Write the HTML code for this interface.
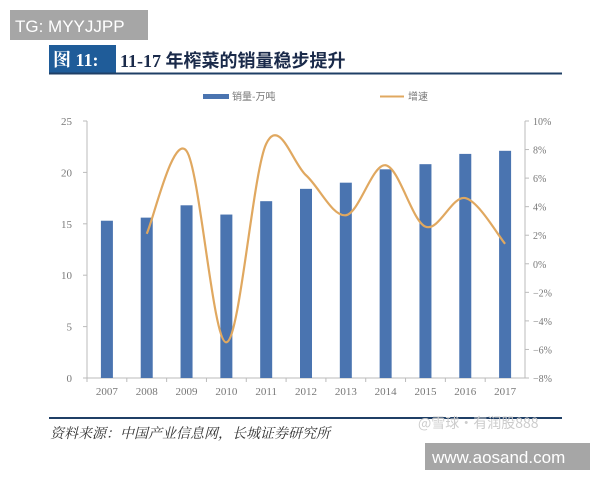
<!DOCTYPE html>
<html><head><meta charset="utf-8"><style>
body{margin:0;width:600px;height:480px;background:#fff;overflow:hidden;font-family:"Liberation Serif","Noto Serif CJK SC",serif;}
</style></head><body>
<svg width="600" height="480" id="svg">
<rect x="10" y="10" width="138" height="30" fill="#a6a6a6"/>
<text x="15" y="32" font-family="Liberation Sans,sans-serif" font-size="17" fill="#fff">TG: MYYJJPP</text>
<rect x="49" y="45" width="67" height="28" fill="#1f5c99"/>
<text x="53" y="66" font-size="18" font-weight="bold" fill="#fff">图 11:</text>
<text x="120" y="67" font-size="18" font-weight="bold" fill="#1a2a4a" font-family="Liberation Serif,Noto Sans CJK SC,sans-serif">11-17 年榨菜的销量稳步提升</text>
<line x1="49" y1="73.5" x2="562" y2="73.5" stroke="#1f3f66" stroke-width="2"/>
<rect x="203" y="94" width="26" height="5" fill="#4a74b0"/>
<text x="232" y="100" font-size="10" fill="#777" font-family="Noto Sans CJK SC,sans-serif">销量-万吨</text>
<line x1="380" y1="96.5" x2="404" y2="96.5" stroke="#e0a860" stroke-width="2"/>
<text x="408" y="100" font-size="10" fill="#777" font-family="Noto Sans CJK SC,sans-serif">增速</text>
<g id="plot"></g>
<line x1="49" y1="418" x2="562" y2="418" stroke="#1f3f66" stroke-width="2"/>
<text x="50" y="438" font-size="14" font-style="italic" fill="#333" font-family="Noto Serif CJK SC,serif">资料来源：中国产业信息网，长城证券研究所</text>
<text x="418" y="428" font-size="14" fill="#ccc" font-family="Noto Sans CJK SC,sans-serif">@雪球·有润股888</text>
<rect x="425" y="443" width="165" height="27" fill="#a6a6a6"/>
<text x="432" y="463" font-family="Liberation Sans,sans-serif" font-size="17" fill="#fff">www.aosand.com</text>
</svg>
<script>
const categories=["2007","2008","2009","2010","2011","2012","2013","2014","2015","2016","2017"];
const sales=[15.3,15.6,16.8,15.9,17.2,18.4,19.0,20.3,20.8,21.8,22.1];
const growth=[null,2.1,7.9,-5.5,8.4,6.2,3.4,6.9,2.6,4.6,1.4];
const leftTicks=[0,5,10,15,20,25];
const rightTicks=[-8,-6,-4,-2,0,2,4,6,8,10];
const NS="http://www.w3.org/2000/svg";
const g=document.getElementById("plot");
const X0=87,X1=525,Y0=378,Y1=121;
const step=(X1-X0)/categories.length;
const xc=i=>X0+step*(i+0.5);
const yl=v=>Y0-(v/25)*(Y0-Y1);
const yr=v=>Y0-((v+8)/18)*(Y0-Y1);
function mk(t,a){const e=document.createElementNS(NS,t);for(const k in a)e.setAttribute(k,a[k]);g.appendChild(e);return e;}
let e=mk("line",{x1:X0,y1:Y0,x2:X1,y2:Y0,stroke:"#bbb"});


e=mk("line",{x1:X0,y1:Y1,x2:X0,y2:Y0,stroke:"#bbb"});


e=mk("line",{x1:X1,y1:Y1,x2:X1,y2:Y0,stroke:"#bbb"});


leftTicks.forEach(v=>{
 mk("line",{x1:X0-4,y1:yl(v),x2:X0,y2:yl(v),stroke:"#bbb"});
 const t=mk("text",{x:X0-15,y:yl(v)+4,"font-size":11,fill:"#777","text-anchor":"end"});t.textContent=v;
 
 
});
rightTicks.forEach(v=>{
 mk("line",{x1:X1,y1:yr(v),x2:X1+4,y2:yr(v),stroke:"#bbb"});
 const t=mk("text",{x:X1+8,y:yr(v)+4,"font-size":10,fill:"#777"});t.textContent=(v<0?"−":"")+Math.abs(v)+"%";
 
 
});
categories.forEach((c,i)=>{
 mk("line",{x1:X0+step*i,y1:Y0,x2:X0+step*i,y2:Y0+4,stroke:"#bbb"});
 const b=mk("rect",{x:xc(i)-6,y:yl(sales[i]),width:12,height:Y0-yl(sales[i]),fill:"#4a74b0"});
 
 
 const t=mk("text",{x:xc(i),y:Y0+17,"font-size":11,fill:"#777","text-anchor":"middle"});t.textContent=c;
 
 
});
const pts=[];growth.forEach((v,i)=>{if(v!==null)pts.push([xc(i),yr(v)]);});
let d="M"+pts[0][0]+","+pts[0][1];
for(let i=0;i<pts.length-1;i++){
 const p0=pts[Math.max(0,i-1)],p1=pts[i],p2=pts[i+1],p3=pts[Math.min(pts.length-1,i+2)];
 const c1=[p1[0]+(p2[0]-p0[0])/6,p1[1]+(p2[1]-p0[1])/6],c2=[p2[0]-(p3[0]-p1[0])/6,p2[1]-(p3[1]-p1[1])/6];
 d+=" C"+c1+" "+c2+" "+p2;
}
const l=mk("path",{d:d,fill:"none",stroke:"#e0a860","stroke-width":2.2});


</script>
</body></html>
